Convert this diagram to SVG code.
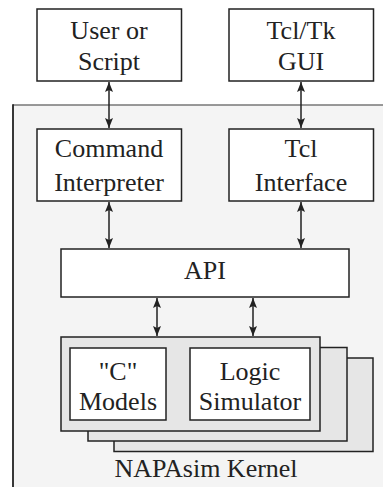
<svg xmlns="http://www.w3.org/2000/svg" width="383" height="487" viewBox="0 0 383 487">
<style>
.box{fill:#fff;stroke:#222;stroke-width:1.5}
.stk{fill:#e6e6e6;stroke:#222;stroke-width:1.5}
text{font-family:'Liberation Serif','Times New Roman',Times,'DejaVu Serif',serif;font-size:26px;fill:#222;text-anchor:middle}
.c{stroke:#222;stroke-width:1.5;fill:none;marker-start:url(#a);marker-end:url(#a)}
</style>
<defs>
<marker id="a" viewBox="0 0 10 8" refX="10" refY="4" markerWidth="10" markerHeight="8" markerUnits="userSpaceOnUse" orient="auto-start-reverse">
<path d="M0,0 L10,4 L0,8 L2,4 Z" fill="#222"/>
</marker>
</defs>
<g id="kernel">
<rect x="13" y="105" width="380" height="400" fill="#f4f4f4"/>
<line x1="13" y1="105" x2="383" y2="105" stroke="#777" stroke-width="1.5"/>
<line x1="13" y1="104.3" x2="13" y2="487" stroke="#222" stroke-width="1.8"/>
<text x="206" y="477">NAPAsim Kernel</text>
</g>
<g id="user">
<rect class="box" x="37" y="9" width="144.5" height="72"/>
<text x="109" y="39">User  or</text>
<text x="109" y="70">Script</text>
</g>
<g id="gui">
<rect class="box" x="229" y="9" width="144.5" height="72"/>
<text x="301" y="39">Tcl/Tk</text>
<text x="301" y="70">GUI</text>
</g>
<g id="cmd">
<rect class="box" x="37" y="129" width="144.5" height="72"/>
<text x="109" y="157">Command</text>
<text x="109" y="191">Interpreter</text>
</g>
<g id="tcl">
<rect class="box" x="229" y="129" width="144.5" height="72"/>
<text x="301" y="157">Tcl</text>
<text x="301" y="191">Interface</text>
</g>
<g id="api">
<rect class="box" x="61" y="249" width="288" height="48"/>
<text x="205" y="279">API</text>
</g>
<g id="stack">
<rect class="stk" x="114" y="358" width="259" height="93.5"/>
<rect class="stk" x="88" y="347.5" width="259" height="93.5"/>
<rect class="stk" x="61" y="337" width="259" height="94"/>
</g>
<g id="cmodels">
<rect class="box" x="70" y="348" width="96" height="72"/>
<text x="118" y="380">"C"</text>
<text x="118" y="410">Models</text>
</g>
<g id="logic">
<rect class="box" x="190" y="348" width="120" height="72"/>
<text x="250" y="380">Logic</text>
<text x="250" y="410">Simulator</text>
</g>
<g id="connectors">
<line class="c" x1="109" y1="82" x2="109" y2="128"/>
<line class="c" x1="301" y1="82" x2="301" y2="128"/>
<line class="c" x1="109" y1="202" x2="109" y2="248"/>
<line class="c" x1="301" y1="202" x2="301" y2="248"/>
<line class="c" x1="157" y1="298" x2="157" y2="336"/>
<line class="c" x1="253" y1="298" x2="253" y2="336"/>
</g>
</svg>
